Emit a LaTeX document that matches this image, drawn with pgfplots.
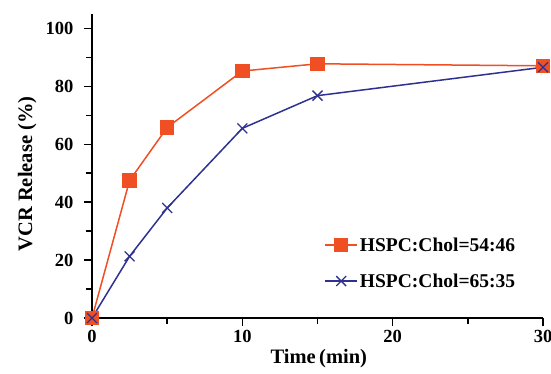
\documentclass[border=0pt]{standalone}
\usepackage{pgfplots}
\pgfplotsset{compat=1.18}
\usepackage{fontspec}
\setmainfont{Liberation Serif}
\definecolor{cor}{RGB}{240,78,35}
\definecolor{cbl}{RGB}{46,49,146}
\begin{document}
\begin{tikzpicture}
\begin{axis}[
  name=ax,
  scale only axis, width=451pt, height=304pt,
  xmin=0, xmax=30, ymin=0, ymax=105,
  axis lines=left, axis line style={-, line width=2pt},
  xtick={0,10,20,30}, ytick={0,20,40,60,80,100},
  minor tick num=1,
  tick align=outside, major tick length=8pt, minor tick length=6pt,
  every tick/.style={line width=1.5pt, black},
  every minor tick/.style={line width=1.5pt, black},
  /pgf/number format/assume math mode=true,
  ticklabel style={font=\fontsize{18.5}{20}\selectfont\bfseries},
  xticklabel style={yshift=-1pt},
  yticklabel style={xshift=-7pt},
  xlabel={Time\,(min)}, ylabel={VCR Release (\%)},
  label style={font=\fontsize{20.5}{22}\selectfont\bfseries},
  xlabel style={at={(axis description cs:0.503,0)}, anchor=north, yshift=-28pt},
  ylabel style={at={(axis description cs:-0.115,0.474)}, anchor=south},
  legend style={draw=none, fill=none, at={(rel axis cs:0.515,0.272)}, anchor=north west,
    font=\fontsize{19.5}{21}\selectfont\bfseries, row sep=17pt, inner sep=0pt},
  legend cell align=left,
  legend image code/.code={\draw[mark repeat=2, mark phase=2] plot coordinates {(0pt,0pt) (16pt,0pt) (32pt,0pt)};},
  clip=false,
]
\addplot[color=cor, line width=1.5pt, mark=square*, mark size=6.5pt, mark options={fill=cor, draw=cor}]
 coordinates {(0,0) (2.5,47.5) (5,65.8) (10,85.3) (15,87.8) (30,87.1)};
\addlegendentry{HSPC:Chol=54:46}
\addplot[color=cbl, line width=1.5pt, mark=x, mark size=7pt, mark options={line width=1.3pt}]
 coordinates {(0,0) (2.5,21.3) (5,38) (10,65.5) (15,76.8) (30,86.6)};
\addlegendentry{HSPC:Chol=65:35}
\end{axis}
\pgfresetboundingbox
\path ([shift={(-92pt,-56pt)}]ax.south west) rectangle ([shift={(8pt,14pt)}]ax.north east);
\end{tikzpicture}
\end{document}
